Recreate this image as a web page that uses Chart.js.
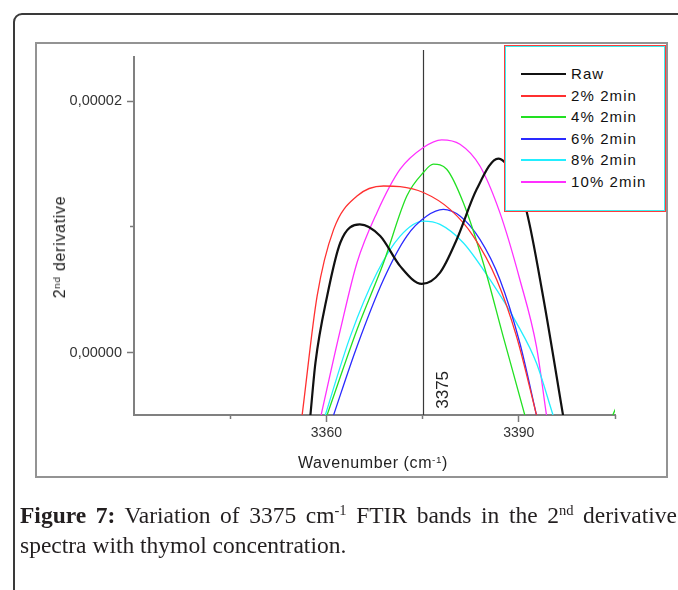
<!DOCTYPE html>
<html>
<head>
<meta charset="utf-8">
<script src="https://cdn.jsdelivr.net/npm/chart.js@4.4.1/dist/chart.umd.min.js"></script>
<style>
  html, body { margin: 0; padding: 0; background: #fff; }
  body { width: 678px; height: 590px; position: relative; overflow: hidden; font-family: "Liberation Sans", Arial, sans-serif; }
  #outer { position: absolute; left: 13px; top: 13px; width: 720px; height: 620px; border: 2px solid #3a3a3a; border-radius: 9px; box-sizing: border-box; }
  #frame { position: absolute; left: 35px; top: 42px; width: 633px; height: 436px; border: 2px solid #939393; box-sizing: border-box; }
  #chartWrap { position: absolute; left: 0; top: 0; width: 678px; height: 590px; }
  #legend { position: absolute; left: 504px; top: 45px; width: 162px; height: 167px; box-sizing: border-box; border: 1px solid #ff3b3b; box-shadow: inset 0 0 0 1px #39f0f0; background: #fff; }
  .li { position: absolute; left: 0; height: 20px; width: 160px; }
  .li .sw { position: absolute; left: 16px; top: 9px; width: 45px; }
  .li .tx { position: absolute; left: 66px; top: 0; font-size: 15px; line-height: 20px; letter-spacing: 1.1px; color: #111; white-space: nowrap; }
  #ytitle { position: absolute; left: 60px; top: 247px; transform: translate(-50%, -50%) rotate(-90deg); font-size: 16px; letter-spacing: 0.7px; color: #222; white-space: nowrap; }
  #xtitle { position: absolute; left: 298px; top: 454px; font-size: 16px; letter-spacing: 0.6px; color: #222; white-space: nowrap; }
  sup { font-size: 62%; vertical-align: 0; position: relative; top: -0.55em; }
  .cap { position: absolute; left: 20px; width: 657px; font-family: "Liberation Serif", "DejaVu Serif", serif; font-size: 23.5px; color: #231f20; white-space: nowrap; }
  #cap1 { top: 502px; text-align: justify; text-align-last: justify; }
  #cap2 { top: 532px; }
  .cap b { font-weight: bold; }
</style>
</head>
<body>
<div id="outer"></div>
<div id="frame"></div>
<div id="chartWrap"><canvas id="c" width="678" height="590"></canvas></div>
<div id="legend"></div>
<div id="ytitle">2<sup>nd</sup> derivative</div>
<div id="xtitle">Wavenumber (cm<sup>-1</sup>)</div>
<div class="cap" id="cap1"><b>Figure 7:</b> Variation of 3375 cm<sup>-1</sup> FTIR bands in the 2<sup>nd</sup> derivative</div>
<div class="cap" id="cap2">spectra with thymol concentration.</div>
<script>
// ---- data (y values in units of 1e-6) ----
const seriesNames = ['Raw', '2% 2min', '4% 2min', '6% 2min', '8% 2min', '10% 2min'];

const rawX = [3357.2, 3357.51, 3358.29, 3360.11, 3362.18, 3365.2, 3368.39, 3371.5, 3374.88, 3377.72, 3380.32, 3383.43, 3386.8, 3389.07, 3391.2, 3393.78, 3396.89, 3397.4];
const rawY = [-6.6, -4.94, -0.8, 4.49, 8.76, 10.2, 9.27, 6.88, 5.47, 6.37, 9.0, 12.99, 15.43, 14.18, 11.26, 4.49, -4.94, -6.5];

const pct2X = [3355.9, 3356.22, 3358.55, 3361.13, 3364.77, 3368.91, 3371.5, 3375.12, 3379.28, 3382.9, 3386.54, 3389.64, 3392.75, 3393.5];
const pct2Y = [-6.2, -4.94, 4.49, 9.8, 12.45, 13.25, 13.2, 12.73, 11.39, 9.27, 5.82, 1.3, -4.94, -6.5];

const pct4X = [3359.1, 3360.11, 3364.77, 3368.91, 3372.54, 3375.12, 3376.68, 3378.76, 3381.34, 3384.45, 3387.56, 3390.93, 3391.7, 3397.5, 3404.2, 3405.6];
const pct4Y = [-6.4, -4.94, 1.83, 7.15, 12.45, 14.32, 14.98, 14.58, 11.93, 7.15, 1.3, -4.94, -6.4, -20.0, -5.6, -3.9];

const pct6X = [3360.1, 3361.13, 3364.77, 3368.91, 3372.54, 3375.65, 3378.23, 3380.83, 3383.94, 3387.05, 3390.16, 3392.75, 3393.4];
const pct6Y = [-6.5, -4.94, 0.5, 5.82, 9.27, 10.86, 11.39, 10.86, 9.0, 5.82, 0.77, -4.94, -6.4];

const pct8X = [3358.9, 3359.84, 3363.73, 3367.88, 3371.5, 3375.12, 3377.72, 3381.34, 3385.49, 3389.64, 3392.75, 3395.33, 3396.2];
const pct8Y = [-6.5, -4.94, 1.3, 6.35, 9.27, 10.46, 10.2, 8.74, 5.82, 2.37, -0.82, -4.94, -6.3];

const pct10X = [3358.5, 3359.18, 3362.18, 3364.77, 3367.88, 3371.5, 3375.12, 3377.98, 3380.83, 3383.94, 3387.05, 3390.16, 3392.75, 3394.31, 3394.7];
const pct10Y = [-6.5, -4.94, 1.83, 7.15, 11.13, 14.58, 16.31, 16.92, 16.57, 14.84, 11.13, 5.82, 0.5, -4.94, -6.3];

const xMajorTicks = [3360, 3390];
const xTickLabels = ['3360', '3390'];
const xMinorTicks = [3345, 3375, 3405];
const yMajorTicks = [0, 20];
const yTickLabels = ['0,00000', '0,00002'];
const yMinorTicks = [10];
const markerX = 3375;
const markerLabel = '3375';

// ---- styles ----
const colors = ['#111111', '#ff3030', '#22e022', '#2a2aff', '#22eeff', '#ff30ff'];
const widths = [2.2, 1.3, 1.3, 1.3, 1.3, 1.3];
const xs = [rawX, pct2X, pct4X, pct6X, pct8X, pct10X];
const ys = [rawY, pct2Y, pct4Y, pct6Y, pct8Y, pct10Y];

const datasets = seriesNames.map((name, i) => ({
  label: name,
  data: xs[i].map((x, j) => ({ x: x, y: ys[i][j] })),
  borderColor: colors[i],
  borderWidth: widths[i],
  pointRadius: 0,
  fill: false,
  cubicInterpolationMode: 'monotone'
}));

// HTML legend built from series
const legend = document.getElementById('legend');
seriesNames.forEach((name, i) => {
  const row = document.createElement('div');
  row.className = 'li';
  row.style.top = Math.round(18 + i * 21.6) + 'px';
  const sw = document.createElement('div');
  sw.className = 'sw';
  sw.style.height = '2px';
  sw.style.background = colors[i];
  const tx = document.createElement('div');
  tx.className = 'tx';
  tx.textContent = name;
  row.appendChild(sw); row.appendChild(tx);
  legend.appendChild(row);
});

const FONT = '"Liberation Sans", Arial, sans-serif';

const markerPlugin = {
  id: 'marker',
  beforeDatasetsDraw(chart) {
    const ctx = chart.ctx, xs = chart.scales.x, ys = chart.scales.y;
    const px = Math.round(xs.getPixelForValue(markerX)) + 0.5;
    ctx.save();
    ctx.strokeStyle = '#3a3a3a';
    ctx.lineWidth = 1.2;
    ctx.beginPath();
    ctx.moveTo(px, chart.chartArea.top - 7);
    ctx.lineTo(px, chart.chartArea.bottom);
    ctx.stroke();
    ctx.translate(px + 20, ys.getPixelForValue(-2.95));
    ctx.rotate(-Math.PI / 2);
    ctx.fillStyle = '#222';
    ctx.font = '17px ' + FONT;
    ctx.textAlign = 'center';
    ctx.textBaseline = 'middle';
    ctx.fillText(markerLabel, 0, 0);
    ctx.restore();
  }
};

const setW = w => s => { s.width = w; };
const setH = h => s => { s.height = h; };

new Chart(document.getElementById('c'), {
  type: 'line',
  data: { datasets: datasets },
  plugins: [markerPlugin],
  options: {
    responsive: false,
    animation: false,
    devicePixelRatio: 1,
    layout: { padding: { left: 20, top: 57, right: 63, bottom: 135 } },
    plugins: { legend: { display: false }, tooltip: { enabled: false } },
    scales: {
      x: {
        type: 'linear', position: 'bottom', min: 3330, max: 3405, weight: 1,
        afterFit: setH(40),
        afterBuildTicks: s => { s.ticks = xMajorTicks.map(v => ({ value: v })); },
        ticks: { autoSkip: false, maxRotation: 0, padding: 3, color: '#333', font: { family: FONT, size: 14 },
                 callback: (v, i) => xTickLabels[i] },
        grid: { drawOnChartArea: false, drawTicks: true, tickLength: 7, tickColor: '#7a7a7a', tickWidth: 1.5 },
        border: { display: true, color: '#808080', width: 2 }
      },
      x2: {
        type: 'linear', position: 'bottom', min: 3330, max: 3405, weight: 0,
        afterFit: setH(0),
        afterBuildTicks: s => { s.ticks = xMinorTicks.map(v => ({ value: v })); },
        ticks: { autoSkip: false, maxRotation: 0, callback: () => '' },
        grid: { drawOnChartArea: false, drawTicks: true, tickLength: 4, tickColor: '#7a7a7a', tickWidth: 1.5 },
        border: { display: false }
      },
      y: {
        type: 'linear', position: 'left', min: -4.95, max: 23.5, weight: 1,
        afterFit: setW(114),
        afterBuildTicks: s => { s.ticks = yMajorTicks.map(v => ({ value: v })); },
        ticks: { autoSkip: false, padding: 5, color: '#333', font: { family: FONT, size: 14.5 },
                 callback: (v, i) => yTickLabels[i] },
        grid: { drawOnChartArea: false, drawTicks: true, tickLength: 7, tickColor: '#7a7a7a', tickWidth: 1.5 },
        border: { display: true, color: '#808080', width: 2 }
      },
      y2: {
        type: 'linear', position: 'left', min: -4.95, max: 23.5, weight: 0,
        afterFit: setW(0),
        afterBuildTicks: s => { s.ticks = yMinorTicks.map(v => ({ value: v })); },
        ticks: { callback: () => '' },
        grid: { drawOnChartArea: false, drawTicks: true, tickLength: 4, tickColor: '#7a7a7a', tickWidth: 1.5 },
        border: { display: false }
      }
    }
  }
});
</script>
</body>
</html>
